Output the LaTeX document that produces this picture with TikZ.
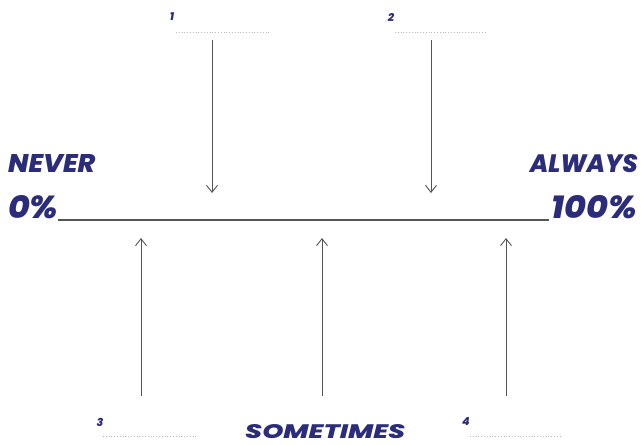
\documentclass[tikz,border=0pt]{standalone}
\usepackage{fontspec}
\usepackage{graphicx}
\setmainfont{Poppins}[BoldFont=* ExtraBold,BoldItalicFont=* ExtraBold Italic]
\usetikzlibrary{arrows.meta}
\definecolor{navy}{HTML}{2B2C7A}
\definecolor{linegray}{HTML}{555555}
\definecolor{dotgray}{HTML}{B8B8B8}
\tikzset{
  lbl/.style={text=navy,font=\bfseries\itshape,inner sep=0pt},
  arr/.style={draw=linegray,line width=0.9pt,-{Straight Barb[length=7pt,width=11pt]}},
  blank/.style={draw=dotgray,line width=0.8pt,dotted},
  num/.style={text=navy,font=\fontsize{11}{11}\selectfont\bfseries\itshape,inner sep=0pt}
}
\begin{document}
\begin{tikzpicture}[x=1pt,y=-1pt]
\useasboundingbox (0,0) rectangle (641,445);
% top labels
\node[num] (n1) at (172,17) {1};
\coordinate (b1s) at (176,32); \coordinate (b1e) at (270,32);
\draw[blank] (b1s) -- (b1e);
\node[num] (n2) at (391,17) {2};
\coordinate (b2s) at (395,32); \coordinate (b2e) at (487,32);
\draw[blank] (b2s) -- (b2e);
% scale labels
\node[lbl,anchor=base west] (never) at (8,172) {\resizebox{87pt}{18pt}{NEVER}};
\node[lbl,anchor=base east] (always) at (638,172) {\resizebox{108pt}{18pt}{ALWAYS}};
\node[lbl,anchor=base west] (zero) at (8,218) {\resizebox{50pt}{23pt}{0\%}};
\node[lbl,anchor=base east] (hundred) at (637,218) {\resizebox{85pt}{23pt}{100\%}};
\coordinate (ls) at (58,220); \coordinate (le) at (549,220);
\draw[linegray,line width=1.2pt] (ls) -- (le);
% down arrows
\coordinate (d1s) at (212,40); \coordinate (d1e) at (212,193);
\coordinate (d2s) at (431,40); \coordinate (d2e) at (431,193);
\draw[arr] (d1s) -- (d1e);
\draw[arr] (d2s) -- (d2e);
% up arrows
\coordinate (u1s) at (141,396); \coordinate (u1e) at (141,238);
\coordinate (u2s) at (322,396); \coordinate (u2e) at (322,238);
\coordinate (u3s) at (506,396); \coordinate (u3e) at (506,238);
\draw[arr] (u1s) -- (u1e);
\draw[arr] (u2s) -- (u2e);
\draw[arr] (u3s) -- (u3e);
% bottom labels
\node[num] (n3) at (100,422) {3};
\coordinate (b3s) at (103,436); \coordinate (b3e) at (197,436);
\draw[blank] (b3s) -- (b3e);
\node[lbl,anchor=base west] (some) at (245,438) {\resizebox{160pt}{14pt}{SOMETIMES}};
\node[num] (n4) at (466,422) {4};
\coordinate (b4s) at (470,436); \coordinate (b4e) at (560,436);
\draw[blank] (b4s) -- (b4e);
\end{tikzpicture}
\end{document}
